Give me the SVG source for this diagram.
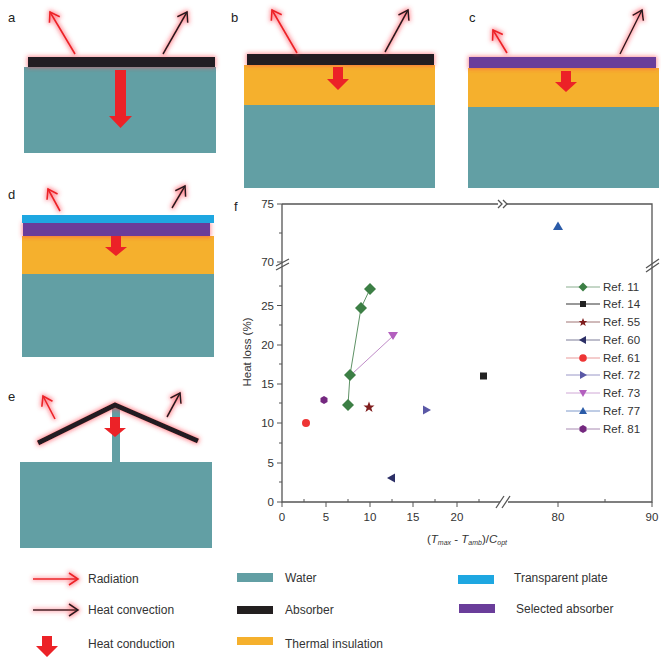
<svg xmlns="http://www.w3.org/2000/svg" width="661" height="661" viewBox="0 0 661 661">
<style>
text{font-family:"Liberation Sans",Arial,sans-serif;fill:#222}
.lbl{font-size:13px}
.tk{font-size:11.5px;fill:#333}
.lg{font-size:11.5px;fill:#333}
.bl{font-size:12px;fill:#333}
.water{fill:#629fa4}
.ins{fill:#f5b02d}
.abs{fill:#231f20}
.sel{fill:#6a3d9a}
.tra{fill:#1ea7e1}
.cond{fill:#ec2227}
.rad{stroke:#ec2227;stroke-width:1.6;fill:none;marker-end:url(#hr)}
.conv{stroke:#231f20;stroke-width:1.6;fill:none;marker-end:url(#hb)}
.ax{stroke:#555;stroke-width:1.3;fill:none}
.tick{stroke:#555;stroke-width:1}
</style>
<defs>
<filter id="halo" filterUnits="userSpaceOnUse" x="0" y="0" width="661" height="661">
<feMorphology operator="dilate" radius="1.2" in="SourceAlpha" result="d"/>
<feGaussianBlur in="d" stdDeviation="2" result="b"/>
<feFlood flood-color="#ff3b4a" flood-opacity="0.55"/>
<feComposite in2="b" operator="in" result="g"/>
<feMerge><feMergeNode in="g"/><feMergeNode in="SourceGraphic"/></feMerge>
</filter>
<marker id="hr" markerUnits="userSpaceOnUse" markerWidth="14" markerHeight="14" viewBox="0 0 14 14" refX="12" refY="7" orient="auto">
<path d="M3,1 L12,7 L3,13" stroke="#ec2227" stroke-width="1.6" fill="none"/>
</marker>
<marker id="hb" markerUnits="userSpaceOnUse" markerWidth="14" markerHeight="14" viewBox="0 0 14 14" refX="12" refY="7" orient="auto">
<path d="M3,1 L12,7 L3,13" stroke="#231f20" stroke-width="1.6" fill="none"/>
</marker>
</defs>

<!-- Panel a -->
<g id="panel-a">
<text class="lbl" x="8" y="22">a</text>
<rect class="water" x="24" y="67" width="192" height="86"/>
<rect class="abs" x="28" y="57" width="187" height="10" filter="url(#halo)"/>
<polygon class="cond" points="115,70 126,70 126,116 132,116 120.5,128 109,116 115,116"/>
<line class="rad" x1="75" y1="54" x2="50" y2="12" filter="url(#halo)"/>
<line class="conv" x1="163" y1="54" x2="187" y2="12" filter="url(#halo)"/>
</g>

<!-- Panel b -->
<g id="panel-b">
<text class="lbl" x="231" y="22">b</text>
<rect class="water" x="244" y="105" width="191" height="83"/>
<rect class="ins" x="244" y="65" width="191" height="40"/>
<rect class="abs" x="247" y="54" width="187" height="11" filter="url(#halo)"/>
<polygon class="cond" points="333,67 343,67 343,79 349,79 338,90 327,79 333,79"/>
<line class="rad" x1="297" y1="53" x2="272" y2="10" filter="url(#halo)"/>
<line class="conv" x1="385" y1="52" x2="408" y2="10" filter="url(#halo)"/>
</g>

<!-- Panel c -->
<g id="panel-c">
<text class="lbl" x="469" y="22">c</text>
<rect class="water" x="468" y="107" width="191" height="81"/>
<rect class="ins" x="468" y="68" width="191" height="39"/>
<rect class="sel" x="469" y="57" width="187" height="11" filter="url(#halo)"/>
<polygon class="cond" points="561,71 571,71 571,82 577,82 566,92 555,82 561,82"/>
<line class="rad" x1="507" y1="53" x2="493" y2="30" filter="url(#halo)"/>
<line class="conv" x1="620" y1="54" x2="642" y2="10" filter="url(#halo)"/>
</g>

<!-- Panel d -->
<g id="panel-d">
<text class="lbl" x="8" y="199">d</text>
<rect class="water" x="22" y="274" width="192" height="83"/>
<rect class="ins" x="22" y="236" width="192" height="38"/>
<rect class="sel" x="23" y="223" width="187" height="13" filter="url(#halo)"/>
<rect class="tra" x="22" y="215" width="192" height="8"/>
<polygon class="cond" points="111,236 121,236 121,247 127,247 116,256 105,247 111,247"/>
<line class="rad" x1="60" y1="211" x2="48" y2="189" filter="url(#halo)"/>
<line class="conv" x1="172" y1="208" x2="185" y2="186" filter="url(#halo)"/>
</g>

<!-- Panel e -->
<g id="panel-e">
<text class="lbl" x="8" y="401">e</text>
<rect class="water" x="20" y="462" width="192" height="86"/>
<rect class="water" x="112" y="406" width="8" height="57"/>
<polyline points="38,443 115,405 198,441" stroke="#231f20" stroke-width="5" fill="none" stroke-linejoin="miter" filter="url(#halo)"/>
<polygon class="cond" points="110,417 120,417 120,428 126,428 115,437 104,428 110,428"/>
<line class="rad" x1="55" y1="419" x2="43" y2="396" filter="url(#halo)"/>
<line class="conv" x1="167" y1="417" x2="180" y2="393" filter="url(#halo)"/>
</g>

<!-- Panel f: plot -->
<g id="panel-f">
<text class="lbl" x="234" y="211">f</text>
<g id="axes">
<path class="ax" d="M282,204 V502 H500 M508,502 H652 V204 H507 M498,204 H282"/>
<path class="ax" d="M498,200 L502,204 L498,208 M503,200 L507,204 L503,208" stroke-width="1"/>
<path class="ax" d="M276,266 L289,259 M276,270 L289,263" stroke-width="1"/>
<path class="ax" d="M646,268 L659,259 M646,272 L659,263" stroke-width="1"/>
<path class="ax" d="M496,508 L504,496 M502,508 L510,496" stroke-width="1"/>
<g class="tick">
<line x1="277" y1="204" x2="282" y2="204"/>
<line x1="279" y1="233" x2="282" y2="233"/>
<line x1="277" y1="262" x2="282" y2="262"/>
<line x1="279" y1="286" x2="282" y2="286"/>
<line x1="277" y1="305.5" x2="282" y2="305.5"/>
<line x1="279" y1="325" x2="282" y2="325"/>
<line x1="277" y1="345" x2="282" y2="345"/>
<line x1="279" y1="364" x2="282" y2="364"/>
<line x1="277" y1="384" x2="282" y2="384"/>
<line x1="279" y1="403" x2="282" y2="403"/>
<line x1="277" y1="423" x2="282" y2="423"/>
<line x1="279" y1="443" x2="282" y2="443"/>
<line x1="277" y1="463" x2="282" y2="463"/>
<line x1="279" y1="482" x2="282" y2="482"/>
<line x1="277" y1="502" x2="282" y2="502"/>
<line x1="282" y1="502" x2="282" y2="507"/>
<line x1="326" y1="502" x2="326" y2="507"/>
<line x1="370" y1="502" x2="370" y2="507"/>
<line x1="413" y1="502" x2="413" y2="507"/>
<line x1="457" y1="502" x2="457" y2="507"/>
<line x1="558" y1="502" x2="558" y2="507"/>
<line x1="652" y1="502" x2="652" y2="507"/>
<line x1="304" y1="499" x2="304" y2="502"/>
<line x1="348" y1="499" x2="348" y2="502"/>
<line x1="392" y1="499" x2="392" y2="502"/>
<line x1="435" y1="499" x2="435" y2="502"/>
<line x1="479" y1="499" x2="479" y2="502"/>
<line x1="605" y1="499" x2="605" y2="502"/>
</g>
<g class="tk" text-anchor="end">
<text class="tk" x="274" y="208">75</text>
<text class="tk" x="274" y="266">70</text>
<text class="tk" x="274" y="310">25</text>
<text class="tk" x="274" y="349">20</text>
<text class="tk" x="274" y="388">15</text>
<text class="tk" x="274" y="427">10</text>
<text class="tk" x="274" y="467">5</text>
<text class="tk" x="274" y="506">0</text>
</g>
<g text-anchor="middle">
<text class="tk" x="282" y="521">0</text>
<text class="tk" x="326" y="521">5</text>
<text class="tk" x="370" y="521">10</text>
<text class="tk" x="413" y="521">15</text>
<text class="tk" x="457" y="521">20</text>
<text class="tk" x="558" y="521">80</text>
<text class="tk" x="652" y="521">90</text>
</g>
<text class="tk" x="0" y="0" transform="translate(251,352) rotate(-90)" text-anchor="middle">Heat loss (%)</text>
<text class="tk" x="467" y="543" text-anchor="middle">(<tspan font-style="italic">T</tspan><tspan font-style="italic" font-size="7" dy="2">max</tspan><tspan dy="-2"> - </tspan><tspan font-style="italic">T</tspan><tspan font-style="italic" font-size="7" dy="2">amb</tspan><tspan dy="-2">)/</tspan><tspan font-style="italic">C</tspan><tspan font-style="italic" font-size="7" dy="2">opt</tspan></text>
</g>
<g id="connectors">
<polyline points="348,405 350,375 361,308 370,289" stroke="#5f9266" stroke-width="1" fill="none"/>
<line x1="352" y1="374" x2="393" y2="336" stroke="#c08cc8" stroke-width="1"/>
</g>
<g id="data">
<g fill="#3c7f45">
<polygon points="348,399 354,405 348,411 342,405"/>
<polygon points="350,369 356,375 350,381 344,375"/>
<polygon points="361,302 367,308 361,314 355,308"/>
<polygon points="370,283 376,289 370,295 364,289"/>
</g>
<rect x="480" y="372.5" width="7" height="7" fill="#222"/>
<polygon points="369,401.5 370.5,405.5 374.5,405.5 371.3,408 372.5,412 369,409.6 365.5,412 366.7,408 363.5,405.5 367.5,405.5" fill="#7f1d1d"/>
<polygon points="387,478 395,473.5 395,482.5" fill="#2c2f66"/>
<circle cx="306" cy="423" r="4" fill="#ee3535"/>
<polygon points="431,410 423,405.5 423,414.5" fill="#5a58a6"/>
<polygon points="388,332 398,332 393,340" fill="#b35fbe"/>
<polygon points="558,221.5 563,230 553,230" fill="#2a5ba8"/>
<polygon points="324,396 327.5,398 327.5,402 324,404 320.5,402 320.5,398" fill="#74287f"/>
</g>
<g id="plot-legend">
<line x1="566" y1="287" x2="600" y2="287" stroke="#8aae8f"/><polygon points="583,282.5 587.5,287 583,291.5 578.5,287" fill="#3c7f45"/><text class="lg" x="603" y="291">Ref. 11</text>
<line x1="566" y1="304" x2="600" y2="304" stroke="#333"/><rect x="580" y="301" width="6" height="6" fill="#222"/><text class="lg" x="603" y="308">Ref. 14</text>
<line x1="566" y1="322" x2="600" y2="322" stroke="#a07575"/><polygon points="583,318 584.2,321 587.2,321 584.8,323 585.8,326 583,324.2 580.2,326 581.2,323 578.8,321 581.8,321" fill="#7f1d1d"/><text class="lg" x="603" y="326">Ref. 55</text>
<line x1="566" y1="340" x2="600" y2="340" stroke="#7d7d98"/><polygon points="579,340 586,336 586,344" fill="#2c2f66"/><text class="lg" x="603" y="344">Ref. 60</text>
<line x1="566" y1="358" x2="600" y2="358" stroke="#e99a9a"/><circle cx="583" cy="358" r="3.8" fill="#ee3535"/><text class="lg" x="603" y="362">Ref. 61</text>
<line x1="566" y1="375" x2="600" y2="375" stroke="#9a98c8"/><polygon points="587,375 580,371 580,379" fill="#5a58a6"/><text class="lg" x="603" y="379">Ref. 72</text>
<line x1="566" y1="393" x2="600" y2="393" stroke="#d0a8d6"/><polygon points="579,390 587,390 583,397" fill="#b35fbe"/><text class="lg" x="603" y="397">Ref. 73</text>
<line x1="566" y1="411" x2="600" y2="411" stroke="#7f9acb"/><polygon points="583,407 587,414 579,414" fill="#2a5ba8"/><text class="lg" x="603" y="415">Ref. 77</text>
<line x1="566" y1="429" x2="600" y2="429" stroke="#a88ab2"/><polygon points="583,425 586.5,427 586.5,431 583,433 579.5,431 579.5,427" fill="#74287f"/><text class="lg" x="603" y="433">Ref. 81</text>
</g>
</g>

<!-- Bottom legend -->
<g id="legend">
<g id="leg-radiation"><line class="rad" x1="33" y1="579" x2="78" y2="579" filter="url(#halo)"/><text class="bl" x="88" y="583">Radiation</text></g>
<g id="leg-convection"><line class="conv" x1="33" y1="610" x2="78" y2="610" filter="url(#halo)"/><text class="bl" x="88" y="614">Heat convection</text></g>
<g id="leg-conduction"><polygon class="cond" points="42,636 52,636 52,646 58,646 47,657 36,646 42,646"/><text class="bl" x="88" y="648">Heat conduction</text></g>
<g id="leg-water"><rect class="water" x="237" y="573" width="36" height="9"/><text class="bl" x="285" y="582">Water</text></g>
<g id="leg-absorber"><rect class="abs" x="237" y="606" width="36" height="8"/><text class="bl" x="285" y="614">Absorber</text></g>
<g id="leg-insulation"><rect class="ins" x="237" y="637" width="36" height="8"/><text class="bl" x="285" y="648">Thermal insulation</text></g>
<g id="leg-transparent"><rect class="tra" x="458" y="575" width="36" height="9"/><text class="bl" x="514" y="582">Transparent plate</text></g>
<g id="leg-selected"><rect class="sel" x="459" y="604" width="36" height="9"/><text class="bl" x="516" y="613">Selected absorber</text></g>
</g>
</svg>
